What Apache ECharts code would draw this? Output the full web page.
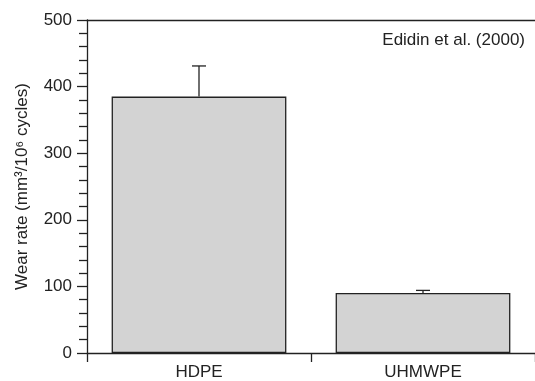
<!DOCTYPE html>
<html><head><meta charset="utf-8">
<script src="https://cdn.jsdelivr.net/npm/echarts@6/dist/echarts.min.js"></script>
<style>html,body{margin:0;padding:0;background:#fff}#c{width:535px;height:381px}</style>
</head><body><div id="c"></div>
<script>
const categories = ['HDPE', 'UHMWPE'];
const wearRate = [385, 90];
const wearError = [46, 4];
const yTicks = [0, 100, 200, 300, 400, 500];
const annotation = 'Edidin et al. (2000)';
const yName = 'Wear rate (mm\u00B3/10\u2076 cycles)';

const font = 'Liberation Sans, Arial, Helvetica, sans-serif';
const ink = '#222';
const chart = echarts.init(document.getElementById('c'), null, {renderer: 'canvas'});
chart.setOption({
  animation: false,
  grid: {left: 87, top: 20, width: 452, height: 333},
  xAxis: [{
    type: 'category', data: categories, position: 'bottom',
    axisLine: {lineStyle: {color: ink, width: 1.3}},
    axisTick: {show: true, inside: false, length: 9, lineStyle: {color: ink, width: 1.3}},
    axisLabel: {color: ink, fontSize: 17, fontFamily: font, margin: 11}
  }, {
    type: 'category', data: categories, position: 'top',
    axisLine: {lineStyle: {color: ink, width: 1.3}},
    axisTick: {show: false}, axisLabel: {show: false}
  }],
  yAxis: {
    type: 'value', min: yTicks[0], max: yTicks[yTicks.length - 1], interval: 100,
    name: yName, nameLocation: 'middle', nameRotate: 90, nameGap: 56,
    nameTextStyle: {color: ink, fontSize: 17, fontFamily: font},
    axisLine: {show: true, lineStyle: {color: ink, width: 1.3}},
    axisTick: {show: true, length: 10, lineStyle: {color: ink, width: 1.3}},
    minorTick: {show: true, splitNumber: 5, length: 8, lineStyle: {color: ink, width: 1.3}},
    splitLine: {show: false},
    axisLabel: {color: ink, fontSize: 17, fontFamily: font, margin: 15}
  },
  series: [{
    type: 'bar', data: wearRate, barWidth: '78%',
    itemStyle: {color: '#d3d3d3', borderColor: ink, borderWidth: 1.3}
  }, {
    type: 'custom',
    data: categories.map((c, i) => [i, wearRate[i], wearRate[i] + wearError[i]]),
    renderItem: function (params, api) {
      const p0 = api.coord([api.value(0), api.value(1)]);
      const p1 = api.coord([api.value(0), api.value(2)]);
      const half = 7;
      return {type: 'group', children: [
        {type: 'line', shape: {x1: p0[0], y1: p0[1], x2: p1[0], y2: p1[1]}, style: {stroke: ink, lineWidth: 1.3}},
        {type: 'line', shape: {x1: p1[0] - half, y1: p1[1], x2: p1[0] + half, y2: p1[1]}, style: {stroke: ink, lineWidth: 1.3}}
      ]};
    },
    z: 5
  }],
  graphic: [{
    type: 'text', right: 10, top: 32,
    style: {text: annotation, fill: ink, fontSize: 17, fontFamily: font}
  }]
});
</script></body></html>
